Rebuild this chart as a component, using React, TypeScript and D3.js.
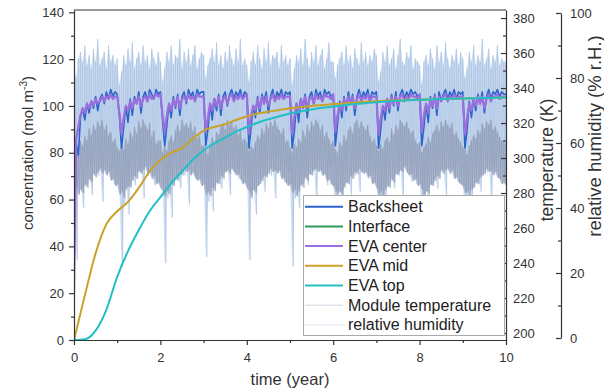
import * as d3 from 'd3';
import React, { useEffect, useRef } from 'react';

// legend / series names
const seriesNames = ['Backsheet', 'Interface', 'EVA center', 'EVA mid', 'EVA top', 'Module temperature', 'relative humidity'];
const seriesColors = ['#2c64cc', '#2f9a5c', '#9b6fe0', '#c9a227', '#22bfc4', '#8e9dbb', '#b0c9e8'];

// tick labels
const timeTicks = [0, 2, 4, 6, 8, 10];
const concTicks = [0, 20, 40, 60, 80, 100, 120, 140];
const tempTicks = [200, 220, 240, 260, 280, 300, 320, 340, 360, 380];
const rhTicks = [0, 20, 40, 60, 80, 100];

// concentration (mol m-3), one value every 0.05 year
const backsheet = [
  72, 84, 79, 95, 99, 94, 101, 97, 102, 99, 104, 98, 103, 105, 101, 106, 103, 107, 104, 106,
  105, 96, 82, 91, 100, 93, 103, 96, 104, 101, 106, 97, 104, 106, 102, 107, 105, 103, 107, 105,
  106, 94, 83, 92, 101, 95, 104, 99, 105, 96, 104, 106, 101, 107, 104, 106, 102, 107, 105, 106,
  106, 83, 90, 101, 94, 103, 98, 105, 96, 104, 106, 100, 105, 107, 103, 106, 104, 107, 103, 106,
  105, 82, 91, 100, 95, 104, 97, 105, 102, 106, 97, 104, 107, 102, 106, 104, 107, 103, 106, 105,
  106, 82, 89, 101, 93, 103, 99, 105, 95, 104, 106, 101, 107, 104, 106, 102, 107, 105, 106, 104,
  105, 83, 92, 102, 95, 104, 98, 106, 101, 105, 96, 104, 107, 103, 106, 104, 107, 102, 106, 105,
  106, 82, 90, 100, 94, 103, 97, 105, 100, 106, 98, 105, 107, 103, 106, 104, 107, 105, 106, 104,
  105, 83, 91, 101, 93, 104, 99, 105, 96, 106, 102, 105, 107, 103, 106, 104, 107, 103, 106, 105,
  106, 82, 90, 102, 95, 103, 98, 105, 101, 106, 97, 104, 107, 103, 106, 105, 107, 104, 106, 105,
  105,
];

const interfaceConc = [
  20, 86, 91, 96, 99, 97, 101, 99, 102, 100, 103, 101, 102, 104, 102, 104, 103, 105, 103, 104,
  104, 97, 88.5, 95, 100, 98, 102, 99, 103, 101, 104, 100, 103, 104, 102, 105, 103, 104, 105, 104,
  105, 96, 89.5, 96, 101, 98, 103, 100, 104, 99, 103, 104, 102, 105, 103, 104, 102, 105, 104, 104,
  104, 89.5, 95, 101, 98, 103, 100, 104, 99, 103, 104, 101, 104, 105, 102, 104, 103, 105, 103, 104,
  105, 88.5, 96, 100, 98, 103, 99, 104, 101, 104, 100, 103, 105, 102, 104, 103, 105, 103, 104, 104,
  104, 88.5, 95, 101, 97, 103, 100, 104, 99, 103, 104, 101, 105, 103, 104, 102, 105, 104, 104, 103,
  105, 89.5, 96, 101, 98, 103, 100, 104, 101, 104, 99, 103, 105, 102, 104, 103, 105, 102, 104, 104,
  104, 88.5, 95, 100, 98, 103, 99, 104, 101, 104, 100, 104, 105, 102, 104, 103, 105, 104, 104, 103,
  105, 89.5, 96, 101, 97, 103, 100, 104, 99, 104, 102, 104, 105, 102, 104, 103, 105, 103, 104, 104,
  104, 88.5, 95, 101, 98, 103, 100, 104, 101, 104, 99, 103, 105, 102, 104, 104, 105, 103, 104, 104,
  104,
];

const evaCenter = [
  20, 86, 91, 96, 99, 97, 101, 99, 102, 100, 103, 101, 102, 104, 102, 104, 103, 105, 103, 104,
  104, 97, 88, 95, 100, 98, 102, 99, 103, 101, 104, 100, 103, 104, 102, 105, 103, 104, 105, 104,
  105, 96, 89, 96, 101, 98, 103, 100, 104, 99, 103, 104, 102, 105, 103, 104, 102, 105, 104, 104,
  104, 89, 95, 101, 98, 103, 100, 104, 99, 103, 104, 101, 104, 105, 102, 104, 103, 105, 103, 104,
  105, 88, 96, 100, 98, 103, 99, 104, 101, 104, 100, 103, 105, 102, 104, 103, 105, 103, 104, 104,
  104, 88, 95, 101, 97, 103, 100, 104, 99, 103, 104, 101, 105, 103, 104, 102, 105, 104, 104, 103,
  105, 89, 96, 101, 98, 103, 100, 104, 101, 104, 99, 103, 105, 102, 104, 103, 105, 102, 104, 104,
  104, 88, 95, 100, 98, 103, 99, 104, 101, 104, 100, 104, 105, 102, 104, 103, 105, 104, 104, 103,
  105, 89, 96, 101, 97, 103, 100, 104, 99, 104, 102, 104, 105, 102, 104, 103, 105, 103, 104, 104,
  104, 88, 95, 101, 98, 103, 100, 104, 101, 104, 99, 103, 105, 102, 104, 104, 105, 103, 104, 104,
  104,
];

// one value every 0.25 year
const evaMid = [
  0, 19, 37, 49.5, 55, 59, 65, 72, 77, 80, 82, 86, 89.5, 91, 92.2, 94, 95.5, 96.8, 97.5, 98.3,
  99, 99.5, 100, 100.4, 100.8, 101.1, 101.5, 101.8, 102, 102.2, 102.4, 102.6, 102.7, 102.9, 103, 103.1,
  103.2, 103.3, 103.4, 103.5, 103.6,
];
const evaTop = [
  0, 0.3, 4, 13, 27, 38, 47, 55, 61, 67, 72, 77, 81, 84, 86.5, 89, 91, 92.8, 94.3, 95.6,
  96.8, 97.7, 98.5, 99.2, 99.8, 100.3, 100.8, 101.2, 101.6, 101.9, 102.2, 102.4, 102.6, 102.8, 103, 103.1,
  103.2, 103.3, 103.4, 103.5, 103.6,
];

// module temperature (K), daily max / min every 0.05 year
const tempHigh = [
  309, 303, 306, 310, 307, 313, 310, 317, 313, 319, 316, 321, 318, 322, 316, 319, 313, 315, 309, 311,
  306, 304, 309, 305, 311, 308, 315, 312, 318, 314, 321, 317, 322, 319, 316, 320, 312, 316, 308, 310,
  310, 303, 307, 304, 310, 313, 309, 316, 319, 315, 322, 318, 320, 317, 321, 315, 318, 311, 313, 307,
  307, 305, 302, 308, 312, 309, 315, 313, 318, 320, 316, 322, 319, 321, 317, 319, 313, 316, 310, 311,
  309, 304, 307, 305, 309, 313, 311, 317, 314, 320, 317, 321, 318, 322, 318, 316, 314, 317, 309, 310,
  306, 303, 308, 306, 311, 309, 316, 312, 319, 315, 321, 318, 322, 320, 316, 319, 312, 315, 311, 308,
  310, 305, 303, 309, 307, 313, 310, 316, 318, 314, 320, 322, 317, 321, 318, 316, 319, 313, 309, 311,
  307, 304, 308, 305, 310, 312, 309, 317, 313, 319, 316, 322, 320, 318, 321, 317, 314, 316, 310, 308,
  309, 303, 306, 308, 312, 309, 314, 316, 319, 315, 321, 318, 322, 319, 317, 320, 313, 315, 311, 309,
  306, 305, 302, 307, 310, 313, 311, 316, 314, 320, 317, 321, 319, 322, 316, 318, 315, 312, 310, 309,
  308,
];
const tempLow = [
  285, 283, 279, 282, 280, 285, 283, 288, 286, 291, 289, 292, 294, 291, 293, 290, 292, 287, 288, 284,
  285, 279, 281, 277, 282, 284, 283, 287, 290, 288, 293, 291, 293, 295, 291, 292, 288, 290, 285, 286,
  283, 281, 278, 281, 279, 285, 284, 288, 287, 291, 290, 294, 292, 293, 290, 292, 289, 287, 288, 284,
  285, 279, 281, 278, 283, 281, 286, 285, 290, 288, 292, 293, 291, 294, 292, 290, 291, 288, 285, 286,
  283, 281, 277, 282, 280, 284, 285, 287, 290, 289, 291, 294, 292, 293, 291, 293, 288, 289, 286, 284,
  285, 280, 282, 278, 281, 285, 283, 289, 287, 291, 290, 293, 294, 292, 293, 290, 291, 287, 288, 285,
  284, 281, 279, 281, 279, 283, 286, 285, 290, 288, 292, 291, 294, 292, 291, 292, 289, 290, 285, 286,
  283, 279, 281, 277, 282, 284, 283, 288, 286, 291, 290, 293, 292, 295, 292, 290, 291, 287, 288, 284,
  285, 282, 278, 281, 280, 285, 284, 287, 290, 288, 293, 291, 293, 294, 291, 293, 288, 289, 286, 285,
  284, 280, 281, 278, 282, 283, 286, 285, 289, 290, 291, 294, 292, 293, 290, 292, 289, 288, 285, 286,
  284,
];

// relative humidity (% r.H.), daily max / min every 0.05 year
const rhHigh = [
  84, 80, 86, 88, 85, 90, 84, 87, 83, 89, 85, 92, 84, 86, 88, 83, 90, 85, 87, 84,
  86, 78, 82, 87, 84, 89, 85, 91, 83, 86, 88, 84, 90, 85, 87, 83, 89, 86, 84, 88,
  85, 79, 83, 88, 85, 90, 84, 87, 86, 92, 83, 88, 85, 89, 84, 87, 90, 83, 86, 88,
  87, 80, 84, 86, 89, 85, 91, 84, 87, 83, 88, 85, 90, 86, 84, 89, 85, 92, 84, 86,
  84, 79, 85, 88, 84, 90, 86, 83, 89, 85, 91, 84, 87, 86, 88, 83, 90, 85, 87, 84,
  86, 78, 83, 87, 85, 89, 84, 92, 86, 83, 88, 85, 90, 84, 87, 89, 83, 86, 91, 85,
  85, 80, 84, 86, 88, 84, 90, 85, 87, 83, 89, 86, 84, 91, 85, 88, 84, 87, 85, 89,
  87, 79, 82, 88, 85, 90, 84, 86, 89, 83, 87, 92, 85, 84, 88, 86, 90, 83, 86, 85,
  84, 78, 85, 87, 84, 89, 86, 83, 90, 85, 88, 84, 91, 86, 83, 87, 85, 89, 84, 88,
  86, 80, 83, 88, 85, 90, 84, 87, 85, 92, 84, 86, 89, 83, 87, 85, 90, 84, 86, 85,
  85,
];
const rhLow = [
  54, 24, 46, 53, 40, 55, 51, 57, 44, 53, 57, 50, 56, 42, 54, 52, 58, 49, 55, 47,
  53, 48, 22, 41, 54, 38, 52, 56, 47, 57, 51, 55, 43, 56, 50, 53, 56, 47, 54, 51,
  54, 49, 23, 43, 53, 37, 55, 51, 57, 46, 54, 50, 56, 41, 53, 57, 49, 55, 52, 48,
  52, 25, 42, 53, 39, 56, 50, 55, 46, 57, 51, 54, 44, 56, 52, 56, 49, 53, 55, 50,
  55, 24, 44, 52, 38, 54, 49, 57, 45, 53, 58, 50, 55, 43, 56, 51, 54, 48, 53, 51,
  51, 22, 43, 54, 40, 53, 50, 56, 47, 57, 52, 55, 42, 56, 53, 50, 57, 47, 54, 52,
  54, 26, 45, 53, 38, 55, 51, 58, 44, 54, 50, 56, 45, 57, 52, 55, 49, 53, 56, 50,
  53, 23, 42, 52, 39, 54, 50, 56, 46, 58, 51, 55, 43, 56, 53, 57, 48, 54, 51, 49,
  55, 25, 44, 53, 37, 56, 49, 55, 46, 57, 52, 54, 44, 58, 51, 56, 50, 53, 55, 48,
  52, 24, 43, 54, 40, 55, 50, 57, 45, 53, 58, 51, 56, 42, 54, 52, 57, 49, 55, 50,
  53,
];

const font = "'Liberation Sans', Arial, sans-serif";
const ink = '#333';

export default function App() {
  const ref = useRef<SVGSVGElement>(null);

  useEffect(() => {
    const svg = d3.select(ref.current);
    svg.selectAll('*').remove();

    const left = 74, right = 506, top = 10, bottom = 340;

    const x = d3.scaleLinear().domain([0, 10]).range([left, right]);
    const yC = d3.scaleLinear().domain([0, 141]).range([bottom, top]);
    const yT = d3.scaleLinear().domain([196, 384.6]).range([bottom, top]);
    const yH = d3.scaleLinear().domain([0, 100]).range([338, 13]);

    svg.append('clipPath').attr('id', 'plot-clip')
      .append('rect').attr('x', left).attr('y', top).attr('width', right - left).attr('height', bottom - top);

    const data = svg.append('g').attr('clip-path', 'url(#plot-clip)');

    // time grids for each sampling
    const pairs = (vals: number[], step: number) => vals.map((v, i) => [i * step, v] as [number, number]);
    const zigzag = (hi: number[], lo: number[], step: number) =>
      hi.flatMap((h, i) => [[i * step, h], [i * step + step / 2, lo[i]]] as [number, number][]);

    const lineWith = (y: d3.ScaleLinear<number, number>, curve = d3.curveLinear) =>
      d3.line<[number, number]>().x(d => x(d[0])).y(d => y(d[1])).curve(curve);
    const bandWith = (y: d3.ScaleLinear<number, number>, hi: number[], lo: number[], step: number) =>
      d3.area<number>().x((_, i) => x(i * step)).y0((_, i) => y(lo[i])).y1(d => y(d))(hi);

    // humidity + temperature: filled daily range with the daily swings on top
    data.append('path').attr('d', bandWith(yH, rhHigh, rhLow, 0.05))
      .attr('fill', '#c8d9ef').attr('opacity', 0.85);
    data.append('path')
      .attr('d', lineWith(yH)(zigzag(rhHigh, rhLow, 0.05)))
      .attr('fill', 'none').attr('stroke', '#a6c0e2').attr('stroke-width', 0.6);
    data.append('path').attr('d', bandWith(yT, tempHigh, tempLow, 0.05))
      .attr('fill', '#a4b0c8').attr('opacity', 0.85);
    data.append('path')
      .attr('d', lineWith(yT)(zigzag(tempHigh, tempLow, 0.05)))
      .attr('fill', 'none').attr('stroke', '#8795b4').attr('stroke-width', 0.6).attr('opacity', 0.8);

    // concentrations
    data.append('path')
      .attr('d', lineWith(yC)(pairs(backsheet, 0.05)))
      .attr('fill', 'none').attr('stroke', seriesColors[0]).attr('stroke-width', 1.6).attr('stroke-linejoin', 'round');
    data.append('path')
      .attr('d', lineWith(yC)(pairs(interfaceConc, 0.05)))
      .attr('fill', 'none').attr('stroke', seriesColors[1]).attr('stroke-width', 1.2);
    data.append('path')
      .attr('d', lineWith(yC)(pairs(evaCenter, 0.05)))
      .attr('fill', 'none').attr('stroke', seriesColors[2]).attr('stroke-width', 2.2).attr('stroke-linejoin', 'round');
    data.append('path')
      .attr('d', lineWith(yC, d3.curveMonotoneX)(pairs(evaMid, 0.25)))
      .attr('fill', 'none').attr('stroke', seriesColors[3]).attr('stroke-width', 2);
    data.append('path')
      .attr('d', lineWith(yC, d3.curveMonotoneX)(pairs(evaTop, 0.25)))
      .attr('fill', 'none').attr('stroke', seriesColors[4]).attr('stroke-width', 2);

    const styleAxis = (g: any) => {
      g.attr('font-family', font).attr('font-size', 13);
      g.selectAll('path.domain').attr('stroke', ink).attr('stroke-width', 1.2);
      g.selectAll('.tick line').attr('stroke', ink).attr('stroke-width', 1.2);
      g.selectAll('.tick text').attr('fill', ink);
    };
    const minor = (g: any) => {
      g.select('path.domain').remove();
      g.selectAll('.tick line').attr('stroke', ink).attr('stroke-width', 1.2);
    };
    const odd = (ticks: number[]) => ticks.slice(1).map((t, i) => (t + ticks[i]) / 2);

    // left
    svg.append('g').attr('transform', `translate(${left},0)`)
      .call(d3.axisLeft(yC).tickValues(concTicks).tickSize(5).tickSizeOuter(0).tickPadding(5)).call(styleAxis);
    svg.append('g').attr('transform', `translate(${left},0)`)
      .call(d3.axisLeft(yC).tickValues(odd(concTicks)).tickSize(3).tickFormat(() => '')).call(minor);

    // bottom
    svg.append('g').attr('transform', `translate(0,${bottom})`)
      .call(d3.axisBottom(x).tickValues(timeTicks).tickSize(5).tickSizeOuter(0).tickPadding(8)).call(styleAxis);
    svg.append('g').attr('transform', `translate(0,${bottom})`)
      .call(d3.axisBottom(x).tickValues(odd(timeTicks)).tickSize(3).tickFormat(() => '')).call(minor);

    // top frame
    svg.append('line').attr('x1', left).attr('x2', right).attr('y1', top).attr('y2', top)
      .attr('stroke', ink).attr('stroke-width', 1.2);

    // right: temperature
    svg.append('g').attr('transform', `translate(${right},0)`)
      .call(d3.axisRight(yT).tickValues(tempTicks).tickSize(-5).tickSizeOuter(0).tickPadding(7)).call(styleAxis);
    svg.append('g').attr('transform', `translate(${right},0)`)
      .call(d3.axisRight(yT).tickValues(odd(tempTicks)).tickSize(-3).tickFormat(() => '')).call(minor);

    // far right: humidity
    const hx = 561;
    svg.append('g').attr('transform', `translate(${hx},0)`)
      .call(d3.axisRight(yH).tickValues(rhTicks).tickSize(-5).tickSizeOuter(0).tickPadding(9)).call(styleAxis);
    svg.append('g').attr('transform', `translate(${hx},0)`)
      .call(d3.axisRight(yH).tickValues(odd(rhTicks)).tickSize(-3).tickFormat(() => '')).call(minor);

    // titles
    svg.append('text').attr('x', 290).attr('y', 385).attr('text-anchor', 'middle')
      .attr('font-family', font).attr('font-size', 16.5).attr('fill', ink).text('time (year)');

    const conc = svg.append('text').attr('transform', 'translate(33,153) rotate(-90)').attr('text-anchor', 'middle')
      .attr('font-family', font).attr('font-size', 15).attr('fill', ink);
    conc.append('tspan').text('concentration (mol m');
    conc.append('tspan').attr('dy', -6).attr('font-size', 10).text('-3');
    conc.append('tspan').attr('dy', 6).text(')');

    svg.append('text').attr('transform', 'translate(553,160) rotate(-90)').attr('text-anchor', 'middle')
      .attr('font-family', font).attr('font-size', 17.5).attr('fill', ink).text('temperature (K)');
    svg.append('text').attr('transform', 'translate(601,136) rotate(-90)').attr('text-anchor', 'middle')
      .attr('font-family', font).attr('font-size', 18.5).attr('fill', ink).text('relative humidity (% r.H.)');

    // legend
    const lg = svg.append('g');
    lg.append('rect').attr('x', 303.5).attr('y', 195.5).attr('width', 201).attr('height', 140)
      .attr('fill', 'white').attr('stroke', '#aaa').attr('stroke-width', 1);
    seriesNames.forEach((name, i) => {
      const cy = 206.7 + i * 19.7;
      lg.append('line').attr('x1', 305).attr('x2', 343).attr('y1', cy).attr('y2', cy)
        .attr('stroke', seriesColors[i]).attr('stroke-width', i < 5 ? 2 : 1)
        .attr('opacity', i < 5 ? 1 : 0.4);
      lg.append('text').attr('x', 348).attr('y', cy + 5.5)
        .attr('font-family', font).attr('font-size', 16).attr('fill', '#222').text(name);
    });
  }, []);

  return <svg ref={ref} width={604} height={390} style={{ position: 'absolute', left: 0, top: 0, background: 'white' }} />;
}
